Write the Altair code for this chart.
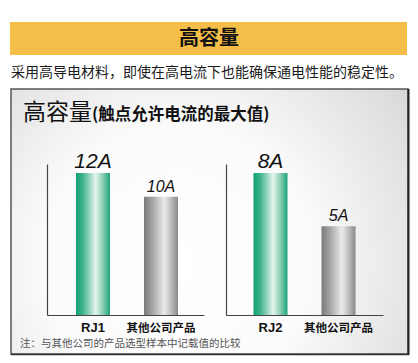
import altair as alt
import pandas as pd

# ---- data ----
left_cats = ["RJ1", "其他公司产品"]
left_vals = [12, 10]
left_labels = ["12A", "10A"]
right_cats = ["RJ2", "其他公司产品"]
right_vals = [8, 5]
right_labels = ["8A", "5A"]
kinds = ["RJ", "other"]

header_title = "高容量"
subtitle = "采用高导电材料，即使在高电流下也能确保通电性能的稳定性。"
box_title = "高容量"
box_sub = "(触点允许电流的最大值)"
footnote = "注：与其他公司的产品选型样本中记载值的比较"

CJK = "Noto Sans CJK SC"
LAT = "Liberation Sans"

left_df = pd.DataFrame({"cat": left_cats, "val": left_vals, "lab": left_labels, "kind": kinds})
right_df = pd.DataFrame({"cat": right_cats, "val": right_vals, "lab": right_labels, "kind": kinds})
one = pd.DataFrame({"a": [0]})

green_grad = {
    "gradient": "linear", "x1": 0, "y1": 0, "x2": 1, "y2": 0,
    "stops": [
        {"offset": 0.0, "color": "#12a077"},
        {"offset": 0.2, "color": "#3db38c"},
        {"offset": 0.58, "color": "#e6f4ec"},
        {"offset": 0.8, "color": "#86cdae"},
        {"offset": 1.0, "color": "#19a37b"},
    ],
}
gray_grad = {
    "gradient": "linear", "x1": 0, "y1": 0, "x2": 1, "y2": 0,
    "stops": [
        {"offset": 0.0, "color": "#7a7a7a"},
        {"offset": 0.25, "color": "#a5a5a5"},
        {"offset": 0.6, "color": "#ebebeb"},
        {"offset": 0.82, "color": "#b8b8b8"},
        {"offset": 1.0, "color": "#888888"},
    ],
}
bg_grad = {
    "gradient": "radial", "x1": 0.42, "y1": 0.6, "r1": 0.0, "x2": 0.42, "y2": 0.6, "r2": 0.75,
    "stops": [
        {"offset": 0.0, "color": "#ffffff"},
        {"offset": 0.45, "color": "#fbfbfb"},
        {"offset": 1.0, "color": "#d6d6d6"},
    ],
}

base1 = alt.Chart(one)

band = base1.mark_rect(fill="#F5BE48").encode(
    x=alt.value(10), x2=alt.value(407), y=alt.value(22), y2=alt.value(55))
band_t = base1.mark_text(text=header_title, font=CJK, fontSize=20, fontWeight="bold",
                         color="#111", align="center", baseline="middle").encode(
    x=alt.value(209), y=alt.value(39))
sub_t = base1.mark_text(text=subtitle, font=CJK, fontSize=14, color="#1a1a1a",
                        align="left", baseline="middle").encode(
    x=alt.value(11), y=alt.value(73))
box = base1.mark_rect(fill=bg_grad, stroke="#555", strokeWidth=1.5).encode(
    x=alt.value(11), x2=alt.value(408), y=alt.value(89), y2=alt.value(354))
shadow_r = base1.mark_rule(color="#222", strokeWidth=2).encode(
    x=alt.value(408.5), y=alt.value(89), y2=alt.value(355))
shadow_b = base1.mark_rule(color="#333", strokeWidth=1.5).encode(
    x=alt.value(11), x2=alt.value(409), y=alt.value(354.5))
bt = base1.mark_text(text=box_title, font=CJK, fontSize=23, color="#111",
                     align="left", baseline="alphabetic").encode(
    x=alt.value(23), y=alt.value(120))
bs = base1.mark_text(text=box_sub, font=CJK, fontSize=16.5, fontWeight="bold", color="#111",
                     align="left", baseline="alphabetic").encode(
    x=alt.value(92), y=alt.value(120))
fn = base1.mark_text(text=footnote, font=CJK, fontSize=10.5, color="#555",
                     align="left", baseline="alphabetic").encode(
    x=alt.value(20), y=alt.value(347))


def panel(df, cats, ymax, xr, align, yorient, yoff, xorient, xoff):
    xs = alt.Scale(type="band", domain=cats, range=xr, paddingInner=0.5,
                   paddingOuter=0.404, align=align)
    ys = alt.Scale(domain=[0, ymax], range=[315, 164], nice=False, zero=True)
    xa = alt.Axis(orient=xorient, offset=xoff, labels=False, ticks=False, title=None,
                  grid=False, domainColor="#444", domainWidth=1.2, zindex=2)
    ya = alt.Axis(orient=yorient, offset=yoff, labels=False, ticks=False, title=None,
                  grid=False, domainColor="#444", domainWidth=1.2, zindex=2)
    X = alt.X("cat:N", scale=xs, axis=xa)
    Y = alt.Y("val:Q", scale=ys, axis=ya)
    b = alt.Chart(df)
    g = b.transform_filter("datum.kind == 'RJ'").mark_bar(fill=green_grad).encode(x=X, y=Y)
    o = b.transform_filter("datum.kind != 'RJ'").mark_bar(fill=gray_grad).encode(x=X, y=Y)
    vl = b.mark_text(font=LAT, fontStyle="italic", color="#111", baseline="alphabetic",
                     align="center", dy=-5).encode(
        x=X, y=Y, text="lab:N",
        size=alt.condition("datum.kind == 'RJ'", alt.value(21), alt.value(16)))
    cl = b.mark_text(font=LAT + ", " + CJK, fontWeight="bold", color="#111",
                     baseline="alphabetic", align="center").encode(
        x=X, y=alt.value(332), text="cat:N",
        size=alt.condition("datum.kind == 'RJ'", alt.value(13), alt.value(11.5)))
    return alt.layer(g, o, vl, cl)


left = panel(left_df, left_cats, 12.76, [47, 204], 0.527, "left", -47, "bottom", -48)
right = panel(right_df, right_cats, 8.5, [226, 383], 0.5, "right", -192, "top", -315)

chart = alt.layer(
    band, band_t, sub_t, box, shadow_r, shadow_b, bt, bs, fn, left, right
).resolve_scale(x="independent", y="independent").resolve_axis(
    x="independent", y="independent"
).properties(
    width=418, height=363, autosize=alt.AutoSizeParams(type="none"), padding=0,
    background="white"
).configure_view(stroke=None)

chart.save("out.html", embed_options={"renderer": "svg", "actions": False})
